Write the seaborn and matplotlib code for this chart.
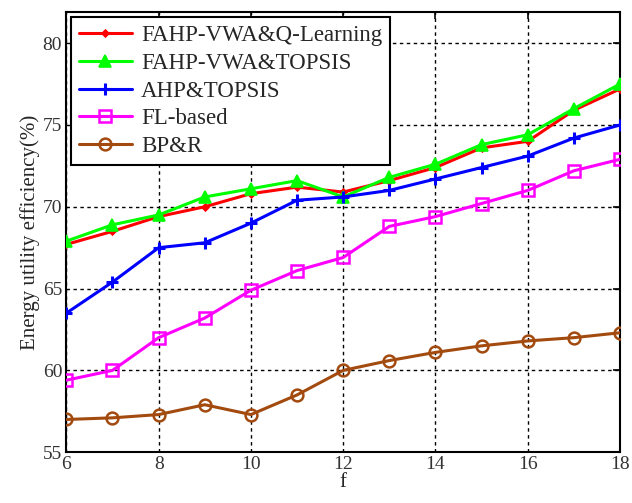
import pandas as pd
import seaborn as sns
import matplotlib.pyplot as plt

# ---------------- data ----------------
f_vals = [6, 7, 8, 9, 10, 11, 12, 13, 14, 15, 16, 17, 18]

q_learning = [67.7, 68.5, 69.4, 70.0, 70.8, 71.2, 70.9, 71.6, 72.4, 73.6, 74.0, 75.9, 77.2]
fahp_topsis = [67.9, 68.9, 69.5, 70.6, 71.1, 71.6, 70.6, 71.8, 72.6, 73.8, 74.4, 76.0, 77.5]
ahp_topsis = [63.5, 65.4, 67.5, 67.8, 69.0, 70.4, 70.6, 71.0, 71.7, 72.4, 73.1, 74.2, 75.0]
fl_based = [59.4, 60.0, 62.0, 63.2, 64.9, 66.1, 66.9, 68.8, 69.4, 70.2, 71.0, 72.2, 72.9]
bp_r = [57.0, 57.1, 57.3, 57.9, 57.3, 58.5, 60.0, 60.6, 61.1, 61.5, 61.8, 62.0, 62.3]

series_names = ["FAHP-VWA&Q-Learning", "FAHP-VWA&TOPSIS", "AHP&TOPSIS", "FL-based", "BP&R"]
series_vals = [q_learning, fahp_topsis, ahp_topsis, fl_based, bp_r]

y_ticks = [55, 60, 65, 70, 75, 80]
x_ticks = [6, 8, 10, 12, 14, 16, 18]

# ---------------- styling ----------------
styles = {
    "FAHP-VWA&Q-Learning": dict(color="#ff0000", marker="D", markersize=3.5, mfc="#ff0000", mew=1.2),
    "FAHP-VWA&TOPSIS": dict(color="#00ff00", marker="^", markersize=9, mfc="#00ff00", mew=1.2),
    "AHP&TOPSIS": dict(color="#0000ff", marker="+", markersize=9, mew=2.2),
    "FL-based": dict(color="#ff00ff", marker="s", markersize=8.5, mfc="none", mew=1.8),
    "BP&R": dict(color="#a34a0f", marker="o", markersize=8.5, mfc="none", mew=1.8),
}

sns.set_theme(style="white")
plt.rcParams['font.family'] = ['Liberation Serif', 'DejaVu Serif']

fig = plt.figure(figsize=(6.32, 5.03), dpi=100)
ax = fig.add_axes([0.105, 0.101, 0.876, 0.875])

for name, vals in zip(series_names, series_vals):
    df = pd.DataFrame({"f": f_vals, "eff": vals})
    st = styles[name]
    sns.lineplot(data=df, x="f", y="eff", ax=ax, label=name,
                 linewidth=2.2, markeredgecolor=st["color"], **st, zorder=3)

ax.set_xlim(6, 18)
ax.set_ylim(55, 81.9)
ax.set_xticks(x_ticks)
ax.set_yticks(y_ticks)

# dotted black grid like the MATLAB original
ax.grid(True, color="black", linestyle=(0, (2.5, 2.5)), linewidth=1.0)
ax.set_axisbelow(True)

for sp in ax.spines.values():
    sp.set_color("black")
    sp.set_linewidth(1.5)

ax.tick_params(direction="in", top=True, right=True, length=5, width=1.2,
               labelsize=14, colors="black", pad=3)
for lab in ax.get_xticklabels() + ax.get_yticklabels():
    lab.set_color("#333333")

ax.set_xlabel("f", fontsize=15, labelpad=0)
ax.set_ylabel("Energy utility efficiency(%)", fontsize=15, labelpad=2)

leg = ax.legend(loc="upper left", fontsize=16.5, frameon=True, fancybox=False,
                edgecolor="black", framealpha=1, borderaxespad=0.2,
                handlelength=2.3, labelspacing=0.3, borderpad=0.35,
                handletextpad=0.4)
leg.get_frame().set_linewidth(1.5)

plt.savefig("out.png", dpi=100)
